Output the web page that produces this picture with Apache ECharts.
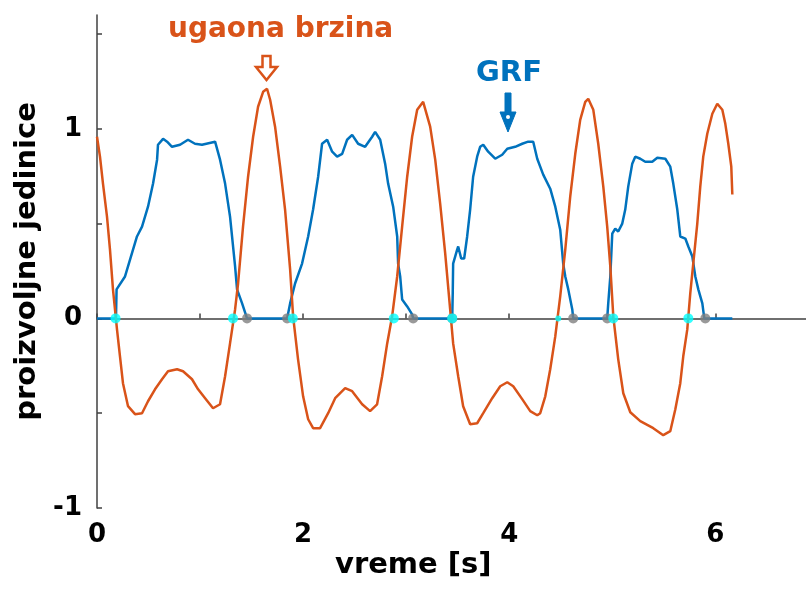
<!DOCTYPE html>
<html>
<head>
<meta charset="utf-8">
<script src="https://cdn.jsdelivr.net/npm/echarts@6/dist/echarts.min.js"></script>
<style>html,body{margin:0;padding:0;background:#fff}#c{width:806px;height:589px}</style>
</head>
<body>
<div id="c"></div>
<script>
// GRF (blue) – time [s] and value
var grfT = [0, 0.184, 0.19, 0.272, 0.301, 0.388, 0.437, 0.495, 0.544, 0.583, 0.592, 0.641, 0.680, 0.728, 0.806, 0.883, 0.951, 1.019, 1.146, 1.194, 1.243, 1.291, 1.340, 1.359, 1.408, 1.456, 1.845, 1.874, 1.922, 1.990, 2.049, 2.097, 2.146, 2.184, 2.233, 2.282, 2.330, 2.379, 2.427, 2.476, 2.534, 2.602, 2.670, 2.699, 2.748, 2.796, 2.825, 2.874, 2.913, 2.922, 2.942, 2.961, 3.010, 3.058, 3.068, 3.447, 3.452, 3.456, 3.495, 3.505, 3.534, 3.563, 3.592, 3.621, 3.650, 3.689, 3.718, 3.748, 3.796, 3.864, 3.932, 3.981, 4.058, 4.126, 4.184, 4.233, 4.272, 4.330, 4.398, 4.447, 4.495, 4.524, 4.544, 4.573, 4.612, 4.621, 4.951, 4.961, 4.981, 5.000, 5.029, 5.058, 5.097, 5.126, 5.155, 5.194, 5.223, 5.272, 5.320, 5.388, 5.437, 5.515, 5.563, 5.592, 5.631, 5.660, 5.709, 5.738, 5.777, 5.806, 5.835, 5.874, 5.893, 6.165];
var grfV = [0, 0, 0.153, 0.221, 0.274, 0.432, 0.484, 0.589, 0.711, 0.837, 0.916, 0.947, 0.932, 0.905, 0.916, 0.942, 0.921, 0.916, 0.932, 0.837, 0.711, 0.537, 0.274, 0.153, 0.079, 0, 0, 0.079, 0.184, 0.289, 0.432, 0.574, 0.747, 0.921, 0.942, 0.879, 0.853, 0.868, 0.942, 0.968, 0.921, 0.905, 0.958, 0.984, 0.942, 0.816, 0.711, 0.589, 0.432, 0.289, 0.221, 0.100, 0.063, 0.021, 0, 0, 0.132, 0.289, 0.363, 0.379, 0.316, 0.316, 0.432, 0.574, 0.747, 0.853, 0.905, 0.916, 0.879, 0.842, 0.863, 0.895, 0.905, 0.921, 0.932, 0.932, 0.842, 0.758, 0.684, 0.589, 0.468, 0.289, 0.221, 0.153, 0.047, 0, 0, 0.079, 0.221, 0.447, 0.474, 0.458, 0.500, 0.574, 0.695, 0.816, 0.853, 0.842, 0.826, 0.826, 0.847, 0.842, 0.800, 0.711, 0.574, 0.432, 0.421, 0.379, 0.326, 0.221, 0.153, 0.079, 0, 0];

// angular velocity (orange) – time [s] and value
var angT = [0, 0.029, 0.058, 0.097, 0.126, 0.155, 0.194, 0.223, 0.252, 0.301, 0.369, 0.437, 0.495, 0.563, 0.631, 0.689, 0.777, 0.835, 0.922, 0.981, 1.049, 1.126, 1.194, 1.243, 1.291, 1.340, 1.369, 1.417, 1.466, 1.515, 1.563, 1.612, 1.650, 1.680, 1.728, 1.777, 1.825, 1.874, 1.903, 1.951, 2.000, 2.049, 2.097, 2.165, 2.243, 2.311, 2.408, 2.476, 2.573, 2.650, 2.718, 2.767, 2.816, 2.864, 2.913, 2.961, 3.010, 3.058, 3.107, 3.165, 3.233, 3.282, 3.330, 3.379, 3.427, 3.456, 3.505, 3.553, 3.621, 3.689, 3.748, 3.835, 3.913, 3.981, 4.039, 4.126, 4.204, 4.272, 4.301, 4.350, 4.398, 4.447, 4.495, 4.544, 4.592, 4.641, 4.689, 4.738, 4.767, 4.816, 4.864, 4.913, 4.951, 4.981, 5.010, 5.058, 5.107, 5.175, 5.272, 5.398, 5.495, 5.563, 5.612, 5.660, 5.689, 5.728, 5.757, 5.786, 5.825, 5.854, 5.883, 5.922, 5.971, 6.019, 6.068, 6.097, 6.126, 6.155, 6.165];
var angV = [0.958, 0.853, 0.711, 0.537, 0.363, 0.153, -0.058, -0.200, -0.342, -0.463, -0.505, -0.500, -0.437, -0.374, -0.321, -0.279, -0.268, -0.279, -0.321, -0.374, -0.421, -0.474, -0.453, -0.305, -0.132, 0.047, 0.184, 0.484, 0.747, 0.958, 1.116, 1.195, 1.211, 1.153, 1.011, 0.800, 0.574, 0.258, 0.011, -0.216, -0.411, -0.532, -0.579, -0.579, -0.500, -0.421, -0.368, -0.384, -0.453, -0.489, -0.453, -0.305, -0.132, 0.011, 0.221, 0.484, 0.747, 0.958, 1.100, 1.142, 1.011, 0.837, 0.605, 0.342, 0.047, -0.132, -0.305, -0.463, -0.558, -0.553, -0.500, -0.421, -0.358, -0.337, -0.358, -0.426, -0.489, -0.511, -0.500, -0.411, -0.268, -0.095, 0.116, 0.363, 0.642, 0.868, 1.047, 1.142, 1.158, 1.100, 0.921, 0.695, 0.484, 0.274, 0.011, -0.216, -0.395, -0.495, -0.542, -0.579, -0.616, -0.595, -0.479, -0.342, -0.200, -0.058, 0.132, 0.289, 0.500, 0.695, 0.853, 0.974, 1.079, 1.132, 1.100, 1.026, 0.921, 0.800, 0.653];

// event markers (at value 0)
var cyanT = [0.18, 1.32, 1.90, 2.88, 3.447, 4.476, 5.01, 5.738];
var cyanSize = [10, 10, 10, 10, 10, 6, 10, 10];
var grayT = [1.456, 1.845, 3.068, 3.447, 4.621, 4.951, 5.903];

// axis ticks / labels
var xTicks = [0, 1, 2, 3, 4, 5, 6];
var xLabels = [0, 2, 4, 6];
var yTicks = [-1, -0.5, 0, 0.5, 1, 1.5];
var yLabels = [-1, 0, 1];

function zip(a, b) { return a.map(function (v, i) { return [v, b[i]]; }); }

var FONT = 'DejaVu Sans';
var BLUE = '#0072BD', ORANGE = '#D95319';
var axisColor = '#404040';

var chart = echarts.init(document.getElementById('c'), null, { renderer: 'canvas' });
chart.setOption({
  animation: false,
  backgroundColor: '#fff',
  grid: { left: 97, top: 15, right: 0, bottom: 81 },
  xAxis: {
    type: 'value', min: 0, max: 6.88,
    axisLine: { lineStyle: { color: axisColor, width: 1.5 } },
    axisTick: { inside: true, length: 5, customValues: xTicks, lineStyle: { color: axisColor, width: 1.5 } },
    axisLabel: { customValues: xLabels, color: '#000', fontFamily: FONT, fontWeight: 'bold', fontSize: 26, margin: 14 },
    splitLine: { show: false }
  },
  yAxis: {
    type: 'value', min: -1, max: 1.6,
    name: 'proizvoljne jedinice', nameLocation: 'middle', nameGap: 50,
    nameTextStyle: { color: '#000', fontFamily: FONT, fontWeight: 'bold', fontSize: 29 },
    axisLine: { show: true, lineStyle: { color: axisColor, width: 1.5 } },
    axisTick: { show: true, inside: true, length: 5, customValues: yTicks, lineStyle: { color: axisColor, width: 1.5 } },
    axisLabel: { customValues: yLabels, color: '#000', fontFamily: FONT, fontWeight: 'bold', fontSize: 26, margin: 15 },
    splitLine: { show: false }
  },
  series: [
    { type: 'line', data: zip(grfT, grfV), showSymbol: false, lineStyle: { color: BLUE, width: 2.5 }, z: 2 },
    { type: 'line', data: zip(angT, angV), showSymbol: false, lineStyle: { color: ORANGE, width: 2.5 }, z: 3 },
    { type: 'scatter', data: grayT.map(function (t) { return [t, 0]; }), symbolSize: 10, itemStyle: { color: '#7f7f7f' }, z: 4 },
    { type: 'scatter', data: cyanT.map(function (t, i) { return { value: [t, 0], symbolSize: cyanSize[i] }; }), itemStyle: { color: '#00FFFF' }, z: 5 }
  ],
  graphic: [
    { type: 'text', left: 168, top: 16, style: { text: 'ugaona brzina', fill: ORANGE, font: 'bold 28px "DejaVu Sans"' } },
    { type: 'polygon', shape: { points: [[262.5, 56], [270.5, 56], [270.5, 67], [277, 67], [266.5, 80], [256, 67], [262.5, 67]] },
      style: { fill: '#fff', stroke: ORANGE, lineWidth: 2.5 } },
    { type: 'text', left: 476, top: 59, style: { text: 'GRF', fill: BLUE, font: 'bold 29px "DejaVu Sans"' } },
    { type: 'polygon', shape: { points: [[505, 93], [511, 93], [511, 112], [516, 112], [508, 132], [500, 112], [505, 112]] },
      style: { fill: BLUE, stroke: BLUE, lineWidth: 1 } },
    { type: 'circle', shape: { cx: 508, cy: 117, r: 2 }, style: { fill: '#fff' } },
    { type: 'text', left: 335, top: 551, style: { text: 'vreme [s]', fill: '#000', font: 'bold 29px "DejaVu Sans"' } }
  ]
});
</script>
</body>
</html>
